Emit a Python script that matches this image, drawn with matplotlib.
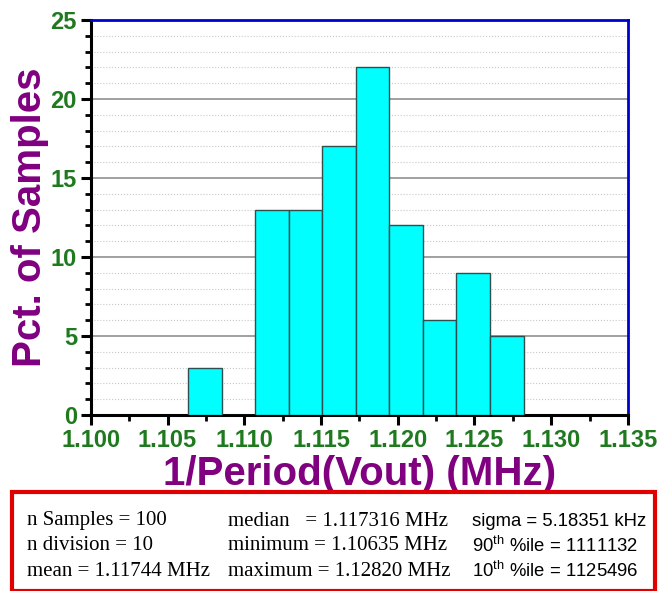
import numpy as np
import matplotlib
matplotlib.use("Agg")
import matplotlib.pyplot as plt
from matplotlib.ticker import MultipleLocator, FormatStrFormatter
from matplotlib.patches import Rectangle

# histogram data (percent of 100 samples per bin)
counts = [3, 0, 13, 13, 17, 22, 12, 6, 9, 5]
bin_min = 1.10635
bin_max = 1.12820
n_div = 10

stats_col1 = ["n Samples = 100", "n division = 10", "mean = 1.11744 MHz"]
stats_col2 = ["median   = 1.117316 MHz", "minimum = 1.10635 MHz", "maximum = 1.12820 MHz"]
stats_col3 = ["sigma = 5.18351 kHz", r"90$^{\rm th}$ %ile = 1111132", r"10$^{\rm th}$ %ile = 1125496"]

green = "#1f7a1f"
purple = "#800080"

plt.rcParams['font.family'] = ['Liberation Sans', 'DejaVu Sans']
plt.rcParams['mathtext.fontset'] = 'custom'
plt.rcParams['mathtext.rm'] = 'Liberation Sans'

fig = plt.figure(figsize=(6.63, 5.91), dpi=100)
ax = fig.add_axes([0.137, 0.298, 0.810, 0.668])

edges = np.linspace(bin_min, bin_max, n_div + 1)
ax.bar(edges[:-1], counts, width=np.diff(edges), align='edge',
       color='#00ffff', edgecolor='#2f4f4f', linewidth=1, zorder=3)

ax.set_xlim(1.100, 1.135)
ax.set_ylim(0, 25)
ax.xaxis.set_major_locator(MultipleLocator(0.005))
ax.xaxis.set_minor_locator(MultipleLocator(0.0025))
ax.xaxis.set_major_formatter(FormatStrFormatter('%.3f'))
ax.yaxis.set_major_locator(MultipleLocator(5))
ax.yaxis.set_minor_locator(MultipleLocator(1))

ax.grid(axis='y', which='major', color='#909090', linewidth=1.2, zorder=0)
ax.grid(axis='y', which='minor', color='#c8c8c8', linewidth=0.8, linestyle=':', zorder=0)
ax.set_axisbelow(True)

for s in ['left', 'bottom']:
    ax.spines[s].set_color('black')
    ax.spines[s].set_linewidth(2.2)
for s in ['top', 'right']:
    ax.spines[s].set_color('#0000cc')
    ax.spines[s].set_linewidth(2)

ax.tick_params(which='major', direction='out', length=7, width=2.2,
               labelsize=17, labelcolor=green, pad=3)
ax.tick_params(which='minor', direction='out', length=4, width=2)
for lab in ax.get_xticklabels() + ax.get_yticklabels():
    lab.set_fontweight('bold')

ax.set_ylabel('Pct. of Samples', fontsize=29, fontweight='bold', color=purple, labelpad=1)
ax.set_xlabel('1/Period(Vout) (MHz)', fontsize=29, fontweight='bold', color=purple, labelpad=2)

# statistics box
box = Rectangle((12 / 663, 0.0), 643 / 663, 99 / 591, transform=fig.transFigure,
                fill=False, edgecolor='#e00000', linewidth=3)
fig.add_artist(box)

row_y = [1 - 521 / 591, 1 - 546 / 591, 1 - 571 / 591]
for i in range(3):
    fig.text(27 / 663, row_y[i], stats_col1[i], fontsize=15, va='center',
             family=['Liberation Serif', 'DejaVu Serif'])
    fig.text(228 / 663, row_y[i], stats_col2[i], fontsize=15, va='center',
             family=['Liberation Serif', 'DejaVu Serif'])
    fig.text(472 / 663, row_y[i], stats_col3[i], fontsize=13.3, va='center',
             family=['Liberation Sans', 'DejaVu Sans'])

fig.savefig('out.png', dpi=100)
